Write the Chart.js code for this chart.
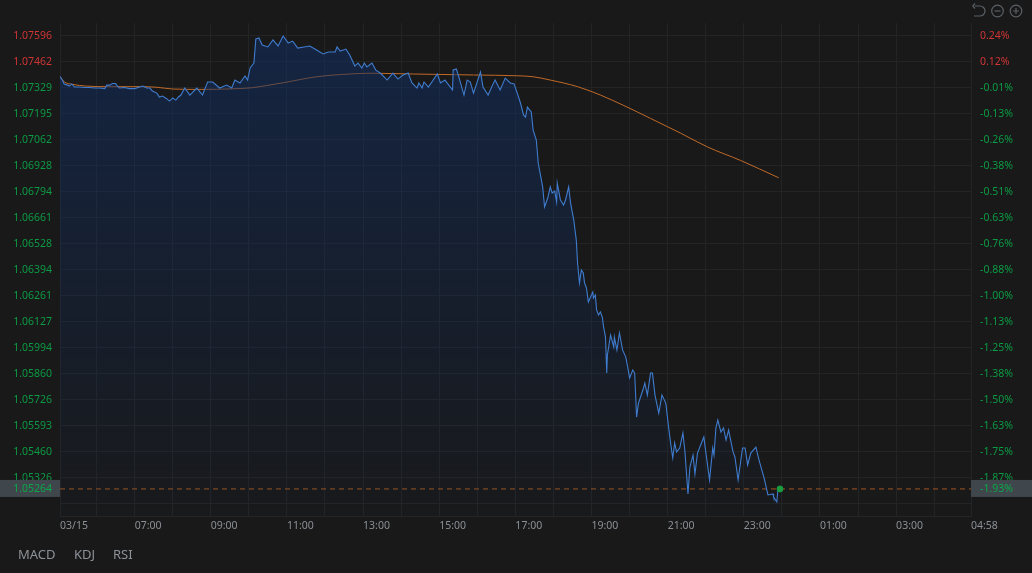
<!DOCTYPE html>
<html>
<head>
<meta charset="utf-8">
<style>
  html, body { margin: 0; padding: 0; background: #191919; overflow: hidden; }
  #wrap { position: relative; width: 1032px; height: 573px; }
  canvas { display: block; }
  .ind { position: absolute; top: 545px; font: 13px "Noto Sans", sans-serif; color: #8c9298; line-height: 18px; }
  #tools { position: absolute; left: 970px; top: 2px; }
</style>
</head>
<body>
<div id="wrap">
  <canvas id="chart" width="1032" height="573"></canvas>
  <span class="ind" style="left:18px">MACD</span>
  <span class="ind" style="left:74px">KDJ</span>
  <span class="ind" style="left:113px">RSI</span>
  <svg id="tools" width="58" height="18" fill="none" stroke="#5b6065" stroke-width="1.2">
    <path d="M5 4h5a5 5 0 0 1 0 10H4M5 1.5 2.8 4 5 6.5"/>
    <circle cx="27.5" cy="9" r="5.8"/><path d="M24.5 9h6"/>
    <circle cx="46" cy="9" r="5.8"/><path d="M43 9h6M46 6v6"/>
  </svg>
</div>
<script src="https://cdn.jsdelivr.net/npm/chart.js@4"></script>
<script>
// minutes since 05:00 on 03/15
const lineTimes = [2.4,6,9,14,17,21,25,33,41,49,57,65,73,76,81,85,90,93,96,104,112,120,128,133,139,144,148,155,159,164,171,175,180,185,189,193,199,207,218,227,235,243,254,265,273,278,286,294,298,302,308,311,316,321,330,338,346,354,362,369,377,387,396,404,417,425,436,439,444,453,459,467,472,478,482,486,494,500,507,518,527,535,543,551,557,565,568,573,576,583,597,602,609,621,622,627,630,639,644,649,654,665,669,677,684,688,696,704,712,718,725,728,733,736,739,745,748,753,756,763,766,771,775,778,782,785,786,791,796,799,804,807,812,816,818,821,824,827,829,832,835,842,843,846,848,851,854,857,859,862,864,865,870,875,876,880,884,889,894,897,900,905,908,911,914,921,924,928,933,936,940,946,951,957,962,965,968,971,974,979,984,987,992,995,1000,1003,1007,1012,1017,1020,1026,1031,1033,1036,1039,1044,1048,1052,1056,1063,1066,1071,1078,1082,1086,1091,1099,1104,1112,1118,1126,1127,1132,1134,1137];
const linePrices = [1.07386,1.07368,1.07348,1.07342,1.07337,1.07348,1.07332,1.07332,1.07330,1.07330,1.07327,1.07327,1.07324,1.07342,1.07342,1.07350,1.07350,1.07337,1.07327,1.07330,1.07324,1.07324,1.07332,1.07337,1.07327,1.07327,1.07312,1.07301,1.07281,1.07286,1.07271,1.07260,1.07276,1.07265,1.07281,1.07291,1.07327,1.07291,1.07327,1.07291,1.07358,1.07358,1.07327,1.07342,1.07327,1.07368,1.07353,1.07389,1.07368,1.07430,1.07455,1.07579,1.07584,1.07548,1.07538,1.07574,1.07543,1.07594,1.07558,1.07568,1.07532,1.07538,1.07543,1.07527,1.07502,1.07512,1.07512,1.07538,1.07517,1.07527,1.07497,1.07440,1.07455,1.07430,1.07455,1.07435,1.07455,1.07419,1.07404,1.07368,1.07404,1.07373,1.07394,1.07404,1.07353,1.07327,1.07353,1.07327,1.07358,1.07332,1.07399,1.07353,1.07368,1.07317,1.07420,1.07425,1.07394,1.07291,1.07368,1.07358,1.07301,1.07409,1.07332,1.07291,1.07342,1.07368,1.07317,1.07378,1.07353,1.07348,1.07281,1.07250,1.07188,1.07178,1.07229,1.07204,1.07111,1.07060,1.06942,1.06819,1.06716,1.06762,1.06819,1.06788,1.06798,1.06742,1.06839,1.06752,1.06726,1.06752,1.06819,1.06736,1.06649,1.06546,1.06428,1.06326,1.06392,1.06377,1.06326,1.06300,1.06228,1.06279,1.06248,1.06264,1.06187,1.06161,1.06177,1.06151,1.06100,1.06048,1.05863,1.05956,1.06058,1.05997,1.06048,1.05981,1.06069,1.05981,1.05945,1.05894,1.05838,1.05879,1.05863,1.05637,1.05709,1.05776,1.05812,1.05750,1.05863,1.05863,1.05750,1.05658,1.05750,1.05709,1.05571,1.05494,1.05427,1.05504,1.05458,1.05478,1.05555,1.05468,1.05242,1.05380,1.05442,1.05345,1.05452,1.05494,1.05535,1.05458,1.05314,1.05478,1.05442,1.05581,1.05622,1.05560,1.05581,1.05519,1.05571,1.05458,1.05432,1.05314,1.05478,1.05478,1.05391,1.05452,1.05483,1.05416,1.05324,1.05237,1.05242,1.05226,1.05201,1.05273,1.05268];

const avgTimes = [2.4,9,22,44,81,128,155,180,223,275,306,328,354,407,459,491,559,654,723,748,775,818,854,891,933,980,1023,1075,1135];
const avgPrices = [1.07386,1.07359,1.07346,1.07337,1.07334,1.07334,1.07331,1.07322,1.07320,1.07323,1.07329,1.07340,1.07354,1.07385,1.07399,1.07403,1.07399,1.07394,1.07390,1.07385,1.07368,1.07334,1.07291,1.07237,1.07171,1.07096,1.07024,1.06955,1.06866];

const priceTicks = [1.07596,1.07462,1.07329,1.07195,1.07062,1.06928,1.06794,1.06661,1.06528,1.06394,1.06261,1.06127,1.05994,1.05860,1.05726,1.05593,1.05460,1.05326,1.05192];
const pctLabels = ['0.24%','0.12%','-0.01%','-0.13%','-0.26%','-0.38%','-0.51%','-0.63%','-0.76%','-0.88%','-1.00%','-1.13%','-1.25%','-1.38%','-1.50%','-1.63%','-1.75%','-1.87%',''];

const timeTicks = [2.4,60,120,180,240,300,360,420,480,540,600,660,720,780,840,900,960,1020,1080,1140,1200,1260,1320,1380,1438];
const timeLabels = ['03/15','','07:00','','09:00','','11:00','','13:00','','15:00','','17:00','','19:00','','21:00','','23:00','','01:00','','03:00','','04:58'];

const prevClose = 1.0734;
const lastPrice = 1.05268;
const lastTime = 1137;
const lastPriceText = '1.05264';
const lastPctText = '-1.93%';

const GRID = '#222426', TEXT = '#8b9096', UP = '#d03535', DOWN = '#0c9a44';
const FONT = { family: '"Noto Sans", sans-serif', size: 10.5 };
const pts = (xs, ys) => xs.map((x, i) => ({ x, y: ys[i] }));

const priceColor = c => (c.tick && c.tick.value > prevClose ? UP : DOWN);

// grey tags holding the latest price, over the axis labels
const lastTags = {
  id: 'lastTags',
  afterDraw(chart) {
    const c = chart.ctx, a = chart.chartArea;
    const y = chart.scales.y.getPixelForValue(lastPrice);
    c.save();
    c.fillStyle = '#3f474c';
    c.fillRect(0, y - 9, a.left, 17);
    c.fillRect(a.right, y - 9, chart.width - a.right, 17);
    c.font = '10.5px "Noto Sans", sans-serif';
    c.fillStyle = '#0ca64a';
    c.textBaseline = 'middle';
    c.textAlign = 'right';
    c.fillText(lastPriceText, a.left - 8, y);
    c.textAlign = 'left';
    c.fillText(lastPctText, a.right + 9, y);
    c.restore();
  }
};

const priceAxis = (position, width, label, padding) => ({
  type: 'linear',
  position,
  min: 1.05129,
  max: 1.07661,
  afterBuildTicks: s => { s.ticks = priceTicks.map(value => ({ value })); },
  afterFit: s => { s.width = width; },
  grid: { color: GRID, drawTicks: false },
  border: { color: GRID },
  ticks: { autoSkip: false, color: priceColor, font: FONT, padding, callback: label }
});

new Chart(document.getElementById('chart').getContext('2d'), {
  type: 'line',
  data: {
    datasets: [
      {
        data: pts([timeTicks[0], timeTicks[timeTicks.length - 1]], [lastPrice, lastPrice]),
        borderColor: '#a0561f',
        borderWidth: 1,
        borderDash: [5, 4],
        pointRadius: 0,
        order: 3
      },
      {
        data: pts(avgTimes, avgPrices),
        borderColor: '#c06a28',
        borderWidth: 1,
        cubicInterpolationMode: 'monotone',
        pointRadius: 0,
        order: 2
      },
      {
        data: pts(lineTimes, linePrices),
        borderColor: '#3f7ccf',
        borderWidth: 1.1,
        tension: 0,
        pointRadius: 0,
        fill: 'start',
        backgroundColor: c => {
          const a = c.chart.chartArea;
          if (!a) return 'transparent';
          const g = c.chart.ctx.createLinearGradient(0, a.top + 12, 0, a.bottom);
          g.addColorStop(0, 'rgba(17,47,101,0.55)');
          g.addColorStop(1, 'rgba(17,47,101,0.03)');
          return g;
        },
        order: 1
      },
      {
        data: pts([lastTime], [lastPrice]),
        borderColor: '#1a9c40',
        backgroundColor: '#1a9c40',
        pointRadius: 3,
        showLine: false,
        order: 0
      }
    ]
  },
  options: {
    responsive: false,
    animation: false,
    layout: { padding: { top: 23 } },
    plugins: { legend: { display: false }, tooltip: { enabled: false } },
    scales: {
      x: {
        type: 'linear',
        min: timeTicks[0],
        max: timeTicks[timeTicks.length - 1],
        afterBuildTicks: s => { s.ticks = timeTicks.map(value => ({ value })); },
        afterFit: s => { s.height = 57; },
        grid: { color: GRID, drawTicks: false },
        border: { color: GRID },
        ticks: {
          autoSkip: false,
          maxRotation: 0,
          align: 'start',
          color: TEXT,
          font: FONT,
          padding: 4,
          callback: (v, i) => timeLabels[i]
        }
      },
      y: priceAxis('left', 60, (v, i) => (i < pctLabels.length - 1 ? v.toFixed(5) : ''), 8),
      y2: priceAxis('right', 61, (v, i) => pctLabels[i], 9)
    }
  },
  plugins: [lastTags]
});
</script>
</body>
</html>
